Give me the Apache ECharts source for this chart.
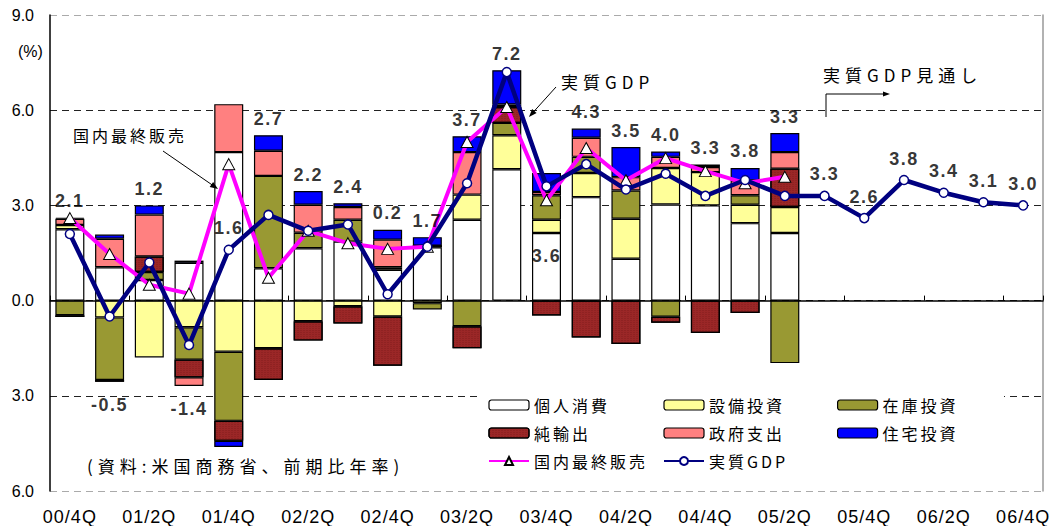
<!DOCTYPE html>
<html>
<head>
<meta charset="utf-8">
<script src="https://cdn.jsdelivr.net/npm/echarts@6/dist/echarts.min.js"></script>
<style>
html,body{margin:0;padding:0;background:#fff;}
#chart{width:1064px;height:526px;}
text[style*="CJK"]{letter-spacing:3px;}
text[style*="CJK"][style*="17px"]{letter-spacing:5px;}
text[style*="bold"]{letter-spacing:1.5px;}
text[style*="18px"]:not([style*="bold"]){letter-spacing:1px;}
</style>
</head>
<body>
<div id="chart"></div>
<script>
// ---------- data ----------
const categories = ['00/4Q','01/1Q','01/2Q','01/3Q','01/4Q','02/1Q','02/2Q','02/3Q','02/4Q',
  '03/1Q','03/2Q','03/3Q','03/4Q','04/1Q','04/2Q','04/3Q','04/4Q','05/1Q','05/2Q',
  '05/3Q','05/4Q','06/1Q','06/2Q','06/3Q','06/4Q'];
const consumption = [2.25,1.05,0.65,1.19,4.68,1.02,1.65,1.86,0.97,1.68,2.55,4.14,2.13,3.26,1.32,3.03,3.00,2.44,2.13];
const equipment   = [0.13,-0.53,-1.79,-0.84,-1.61,-1.50,-0.65,-0.18,-0.50,-0.08,0.79,1.07,0.42,0.76,1.26,1.15,1.05,0.58,0.82];
const inventory   = [-0.46,-1.97,0.25,-1.02,-2.18,2.91,0.49,0.69,0.08,-0.20,-0.81,0.39,0.77,0.51,0.89,-0.51,0,0.30,-1.97];
const netExports  = [-0.06,-0.06,0.49,-0.56,-0.63,-1.00,-0.61,-0.54,-1.55,0.05,-0.69,0.50,-0.47,-1.16,-1.37,-0.19,-1.02,-0.39,1.21];
const government  = [0.20,0.90,1.32,-0.27,1.51,0.79,0.88,0.40,0.87,0,1.34,0.08,0.10,0.60,0.42,0.35,0.16,0.47,0.52];
const housing     = [0.03,0.13,0.29,0.07,-0.19,0.49,0.43,0.12,0.31,0.27,0.50,1.08,0.60,0.29,0.95,0.17,0.08,0.39,0.60];
const finalSales  = [2.6,1.47,0.5,0.22,4.3,0.72,2.2,1.81,1.63,1.7,5.0,6.1,3.16,4.81,3.79,4.49,4.08,3.7,3.9];
const realGDP     = [2.1,-0.5,1.2,-1.4,1.6,2.7,2.2,2.4,0.2,1.7,3.7,7.2,3.6,4.3,3.5,4.0,3.3,3.8,3.3,3.3,2.6,3.8,3.4,3.1,3.0];
const yTicks = [-6,-3,0,3,6,9];
// where a GDP value label sits when not above its bar: 'point' = above the point, 'inside' = below the point
const labelPlacement = {4:'point', 12:'inside'};

// ---------- build ----------
const components = [
  {name:'個人消費', data:consumption, color:'#FFFFFF'},
  {name:'設備投資', data:equipment,   color:'#FFFF99'},
  {name:'在庫投資', data:inventory,   color:'#999933'},
  {name:'純輸出',   data:netExports,  color:'#9B2727'},
  {name:'政府支出', data:government,  color:'#FF8080'},
  {name:'住宅投資', data:housing,     color:'#0000FF'}
];
const nHist = consumption.length;

const CJK = 'Noto Sans CJK JP';
const LAT = 'Liberation Sans';

const barSeries = components.map(c => ({
  name: c.name, type: 'bar', stack: 'gdp', barWidth: 29,
  data: c.data,
  itemStyle: Object.assign({color: c.color, borderColor: '#000', borderWidth: 1.2},
    c.name === '純輸出' ? {decal: {symbol: 'rect', symbolSize: 0.6, color: 'rgba(60,0,0,0.45)', dashArrayX: [2, 1], dashArrayY: [1, 1], rotation: 0}} : {}),
  emphasis: {disabled: true}
}));

const labelData = realGDP.map((v, i) => {
  let anchor = v, position = 'top', distance = 12;
  if (i < nHist) {
    let pos = 0, neg = 0;
    components.forEach(c => { const x = c.data[i]; if (x > 0) pos += x; else neg += x; });
    if (v < 0) { anchor = neg; position = 'bottom'; distance = 14; }
    else if (labelPlacement[i] === 'point') { anchor = v; distance = 12; }
    else if (labelPlacement[i] === 'inside') { anchor = v; position = 'bottom'; distance = 60; }
    else { anchor = Math.max(pos, v); distance = 7; }
  }
  return {value: [i, anchor], label: {position: position, distance: distance}};
});

function arrowHead(x1, y1, x2, y2, len, half) {
  const dx = x2 - x1, dy = y2 - y1, d = Math.hypot(dx, dy);
  const ux = dx / d, uy = dy / d;
  const bx = x2 - ux * len, by = y2 - uy * len;
  return [[x2, y2], [bx - uy * half, by + ux * half], [bx + uy * half, by - ux * half]];
}

const legendCommon = {
  orient: 'vertical', top: 397, itemWidth: 40, itemHeight: 10, itemGap: 12,
  textStyle: {fontSize: 16, fontFamily: CJK, color: '#000', lineHeight: 16},
  selectedMode: false, backgroundColor: 'transparent', padding: 0
};
const barLegendItem = name => ({name: name, itemStyle: {borderColor: '#000', borderWidth: 1.2}});

const chart = echarts.init(document.getElementById('chart'), null, {renderer: 'svg'});
chart.setOption({
  animation: false,
  backgroundColor: '#fff',
  grid: {left: 50, right: 21, top: 15, bottom: 35, containLabel: false},
  xAxis: [{
    type: 'category', data: categories, position: 'bottom',
    axisLine: {show: false, onZero: false}, axisTick: {show: false},
    axisLabel: {interval: 1, fontSize: 18, color: '#000', margin: 17, fontFamily: LAT}
  }, {
    type: 'category', data: categories, position: 'top',
    axisLine: {show: true, onZero: true, lineStyle: {color: '#000', width: 1.5}},
    axisTick: {show: true, inside: false, length: 5, lineStyle: {color: '#000', width: 1}},
    axisLabel: {show: false}, splitLine: {show: false}
  }],
  yAxis: [{
    type: 'value', min: yTicks[0], max: yTicks[yTicks.length - 1], interval: 3,
    axisLine: {show: true, lineStyle: {color: '#000', width: 1.5}},
    axisTick: {show: false},
    axisLabel: {formatter: v => Math.abs(v).toFixed(1), fontSize: 16, color: '#000', margin: 16, fontFamily: LAT},
    splitLine: {show: true, lineStyle: {type: [7, 5], width: 1, color: ['#aaa', '#222', '#222', '#222', '#222', '#aaa']}}
  }, {
    type: 'value', min: yTicks[0], max: yTicks[yTicks.length - 1], interval: 3, position: 'right',
    axisLine: {show: true, onZero: false, lineStyle: {color: '#999', width: 1.5}},
    axisTick: {show: false}, axisLabel: {show: false}, splitLine: {show: false}
  }],
  legend: [
    Object.assign({}, legendCommon, {left: 488, data: [barLegendItem('個人消費'), barLegendItem('純輸出'), {name: '国内最終販売'}]}),
    Object.assign({}, legendCommon, {left: 663, data: [barLegendItem('設備投資'), barLegendItem('政府支出'), {name: '実質GDP'}]}),
    Object.assign({}, legendCommon, {left: 837, data: [barLegendItem('在庫投資'), barLegendItem('住宅投資')]})
  ],
  graphic: [
    {type: 'rect', shape: {x: 482, y: 386, width: 522, height: 92}, style: {fill: '#fff'}, z: 1, silent: true},
    {type: 'text', z: 10, style: {text: '(%)', x: 18, y: 51, fontSize: 16, fontFamily: LAT, fill: '#000', textVerticalAlign: 'middle'}},
    {type: 'text', z: 10, style: {text: '国内最終販売', x: 73, y: 135, fontSize: 16, fontFamily: CJK, fill: '#000', textVerticalAlign: 'middle'}},
    {type: 'text', z: 10, style: {text: '実質GDP', x: 561, y: 81, fontSize: 17, fontFamily: CJK, fill: '#000', textVerticalAlign: 'middle'}},
    {type: 'text', z: 10, style: {text: '実質GDP見通し', x: 823, y: 74, fontSize: 17, fontFamily: CJK, fill: '#000', textVerticalAlign: 'middle'}},
    {type: 'text', z: 10, style: {text: '(資料:米国商務省、前期比年率)', x: 87, y: 465, fontSize: 17, fontFamily: CJK, fill: '#000', textVerticalAlign: 'middle'}},
    {type: 'line', z: 10, shape: {x1: 163, y1: 151, x2: 213, y2: 185.5}, style: {stroke: '#000', lineWidth: 1}},
    {type: 'polygon', z: 10, shape: {points: arrowHead(163, 151, 218, 189, 8, 3)}, style: {fill: '#000'}},
    {type: 'line', z: 10, shape: {x1: 556, y1: 87, x2: 532.5, y2: 113}, style: {stroke: '#000', lineWidth: 1}},
    {type: 'polygon', z: 10, shape: {points: arrowHead(556, 87, 529, 117, 8, 3)}, style: {fill: '#000'}},
    {type: 'polyline', z: 10, shape: {points: [[826, 117], [826, 94], [884, 94]]}, style: {stroke: '#000', lineWidth: 1, fill: null}},
    {type: 'polygon', z: 10, shape: {points: arrowHead(826, 94, 890, 94, 7, 2.5)}, style: {fill: '#000'}}
  ],
  series: barSeries.concat([
    {
      name: '国内最終販売', type: 'line', data: finalSales, z: 3,
      symbol: 'triangle', symbolSize: [12, 11],
      lineStyle: {color: '#FF00FF', width: 4},
      itemStyle: {color: '#fff', borderColor: '#000', borderWidth: 1},
      emphasis: {disabled: true}
    },
    {
      name: '実質GDP', type: 'line', data: realGDP, z: 4,
      symbol: 'circle', symbolSize: 9,
      lineStyle: {color: '#000080', width: 4.5},
      itemStyle: {color: '#fff', borderColor: '#000080', borderWidth: 1.5},
      emphasis: {disabled: true}
    },
    {
      name: 'labels', type: 'scatter', data: labelData, z: 6, silent: true,
      symbolSize: 1, itemStyle: {color: 'transparent'},
      label: {show: true, formatter: p => realGDP[p.dataIndex].toFixed(1),
        fontSize: 18, fontWeight: 'bold', color: '#000', fontFamily: LAT}
    }
  ])
});
</script>
</body>
</html>
